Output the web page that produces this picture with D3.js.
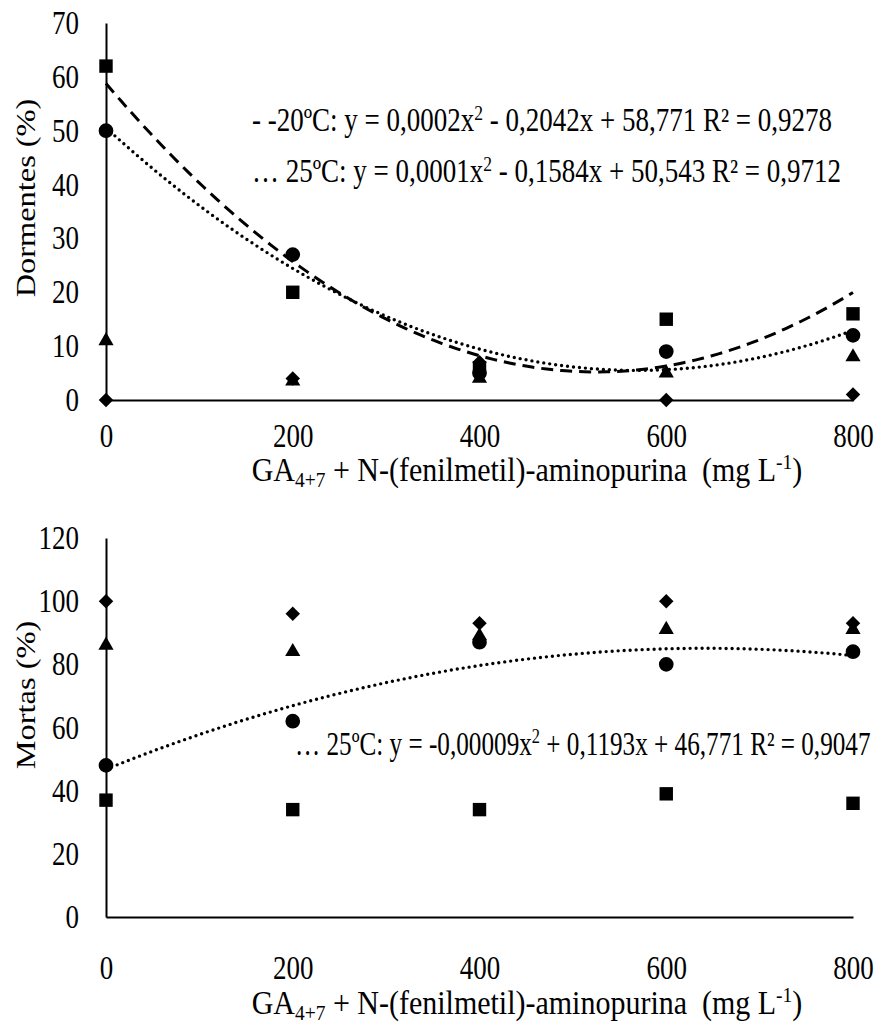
<!DOCTYPE html>
<html>
<head>
<meta charset="utf-8">
<script src="https://cdn.jsdelivr.net/npm/d3@7"></script>
<style>
  body { margin: 0; background: #fff; }
  text { font-family: "Liberation Serif", "Times New Roman", serif; fill: #000; }
</style>
</head>
<body>
<svg id="chart" width="882" height="1027"></svg>
<script>
// doses on the x axis (mg L-1)
const doses = [0, 200, 400, 600, 800];

// top panel: Dormentes (%)
const dormSquare = [62, 20, 6, 15, 16];     // -20ºC
const dormCircle = [50, 27, 5, 9, 12];      // 25ºC
const dormTriangle = [11, 3.5, 4, 5, 8];
const dormDiamond = [0, 4, 7, 0, 1];

// bottom panel: Mortas (%)
const mortSquare = [37, 34, 34, 39, 36];
const mortCircle = [48, 62, 87, 80, 84];    // 25ºC
const mortTriangle = [86, 84, 89, 91, 91];
const mortDiamond = [100, 96, 93, 100, 93];

const xTicks = [0, 200, 400, 600, 800];
const dormTicks = [0, 10, 20, 30, 40, 50, 60, 70];
const mortTicks = [0, 20, 40, 60, 80, 100, 120];

const svg = d3.select("#chart");
const FS = 27;
const stretch = "scale(1,1.22)";

const x = d3.scaleLinear().domain([0, 800]).range([106, 853]);

// quadratic least squares fit, like the spreadsheet trendline
function quadFit(xs, ys) {
  let s = [0, 0, 0, 0, 0], t = [0, 0, 0];
  xs.forEach((xv, i) => {
    for (let k = 0; k < 5; k++) s[k] += Math.pow(xv, k);
    for (let k = 0; k < 3; k++) t[k] += Math.pow(xv, k) * ys[i];
  });
  // normal equations, solved with Cramer's rule
  const M = [[s[0], s[1], s[2]], [s[1], s[2], s[3]], [s[2], s[3], s[4]]];
  const det = m => m[0][0] * (m[1][1] * m[2][2] - m[1][2] * m[2][1])
    - m[0][1] * (m[1][0] * m[2][2] - m[1][2] * m[2][0])
    + m[0][2] * (m[1][0] * m[2][1] - m[1][1] * m[2][0]);
  const D = det(M);
  const coef = [0, 1, 2].map(c => det(M.map((row, r) => row.map((v, j) => j === c ? t[r] : v))) / D);
  return xv => coef[0] + coef[1] * xv + coef[2] * xv * xv;
}

const symbols = {
  square: d3.symbol().type(d3.symbolSquare).size(180),
  circle: d3.symbol().type(d3.symbolCircle).size(170),
  triangle: d3.symbol().type(d3.symbolTriangle).size(100),
  diamond: d3.symbol().type(d3.symbolSquare).size(105)
};

function drawPanel(cfg) {
  const y = d3.scaleLinear().domain(cfg.domain).range(cfg.range);
  const g = svg.append("g");

  // y axis
  const yAx = g.append("g")
    .attr("transform", `translate(${x(0)},0)`)
    .call(d3.axisLeft(y).tickValues(cfg.ticks).tickSize(0).tickSizeOuter(0).tickPadding(27));
  yAx.select(".domain").attr("stroke", "#000").attr("stroke-width", 2);
  yAx.selectAll("text")
    .attr("font-size", FS)
    .attr("dy", "0.32em")
    .attr("transform", stretch)
    .style("font-family", "Liberation Serif");

  // x axis
  const xAx = g.append("g")
    .attr("transform", `translate(0,${y(0)})`)
    .call(d3.axisBottom(x).tickValues(xTicks).tickSize(0).tickSizeOuter(0));
  xAx.select(".domain").attr("stroke", "#000").attr("stroke-width", 2);
  xAx.selectAll("text")
    .attr("font-size", FS)
    .attr("y", null).attr("dy", null)
    .attr("transform", `translate(0,${cfg.xLabelDy}) ${stretch}`)
    .style("font-family", "Liberation Serif");

  // x title
  const TF = 30;
  const xt = g.append("text")
    .attr("text-anchor", "middle")
    .attr("font-size", TF)
    .attr("transform", `translate(527,${cfg.xTitleY}) scale(1,1.1)`);
  xt.append("tspan").text("GA");
  xt.append("tspan").attr("font-size", TF * 0.65).attr("dy", 5).text("4+7");
  xt.append("tspan").attr("dy", -5).text(" + N-(fenilmetil)-aminopurina\u00a0 (mg L");
  xt.append("tspan").attr("font-size", TF * 0.65).attr("dy", -11).text("-1");
  xt.append("tspan").attr("dy", 11).text(")");

  // y title
  g.append("text")
    .attr("text-anchor", "middle")
    .attr("font-size", FS)
    .attr("transform", `translate(35,${cfg.yTitleY}) rotate(-90) scale(1.2,1)`)
    .text(cfg.yTitle);

  // trend lines
  cfg.trends.forEach(tr => {
    const f = quadFit(doses, tr.values);
    const pts = d3.range(0, 801, 8).map(d => [d, f(d)]);
    g.append("path")
      .attr("d", d3.line().x(d => x(d[0])).y(d => y(d[1]))(pts))
      .attr("fill", "none")
      .attr("stroke", "#000")
      .attr("stroke-width", tr.dash ? 3 : 3.4)
      .attr("stroke-linecap", tr.dash ? "butt" : "round")
      .attr("stroke-dasharray", tr.dash ? "12,7" : "0,6");
  });

  // markers
  cfg.series.forEach(s => {
    g.selectAll(null).data(s.values).enter().append("path")
      .attr("d", symbols[s.shape]())
      .attr("transform", (d, i) => `translate(${x(doses[i])},${y(d)})${s.shape === "diamond" ? " rotate(45)" : ""}`)
      .attr("fill", "#000");
  });

  // equation labels
  cfg.equations.forEach(eq => {
    const ef = eq.size || FS;
    const t = g.append("text")
      .attr("font-size", ef)
      .attr("transform", `translate(${eq.x},${eq.y}) scale(1,${(1.22 * FS / ef).toFixed(3)})`);
    t.append("tspan").text(eq.pre);
    t.append("tspan").attr("font-size", ef * 0.65).attr("dy", -9).text("2");
    t.append("tspan").attr("dy", 9).text(eq.post);
  });
}

drawPanel({
  domain: [0, 70], range: [400, 23], ticks: dormTicks,
  xLabelDy: 47, xTitleY: 481, yTitleY: 198, yTitle: "Dormentes (%)",
  series: [
    { shape: "diamond", values: dormDiamond },
    { shape: "triangle", values: dormTriangle },
    { shape: "circle", values: dormCircle },
    { shape: "square", values: dormSquare }
  ],
  trends: [
    { values: dormSquare, dash: true },
    { values: dormCircle, dash: false }
  ],
  equations: [
    { x: 252, y: 131, pre: "- -20ºC: y = 0,0002x", post: " - 0,2042x + 58,771 R² = 0,9278" },
    { x: 252, y: 182, pre: "… 25ºC: y = 0,0001x", post: " - 0,1584x + 50,543 R² = 0,9712" }
  ]
});

drawPanel({
  domain: [0, 120], range: [917, 538], ticks: mortTicks,
  xLabelDy: 62, xTitleY: 1014, yTitleY: 695, yTitle: "Mortas (%)",
  series: [
    { shape: "diamond", values: mortDiamond },
    { shape: "triangle", values: mortTriangle },
    { shape: "circle", values: mortCircle },
    { shape: "square", values: mortSquare }
  ],
  trends: [
    { values: mortCircle, dash: false }
  ],
  equations: [
    { x: 295, y: 755, size: 25.2, pre: "… 25ºC: y = -0,00009x", post: " + 0,1193x + 46,771 R² = 0,9047" }
  ]
});
</script>
</body>
</html>
